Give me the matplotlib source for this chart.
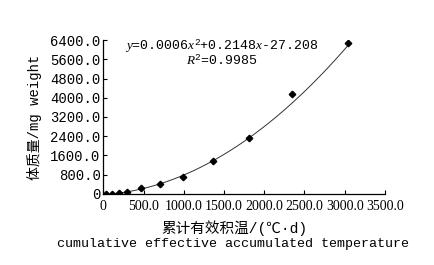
import numpy as np
import matplotlib.pyplot as plt

# accumulated temperature (degree-days) and body weight (mg)
temp = [37, 112, 190, 300, 470, 710, 985, 1360, 1805, 2340, 3040]
weight = [5, 10, 25, 80, 250, 415, 705, 1370, 2330, 4150, 6275]

# trendline coefficients shown on the chart
coef = [0.0006, 0.2148, -27.208]

xticks = [0, 500, 1000, 1500, 2000, 2500, 3000, 3500]
yticks = [0, 800, 1600, 2400, 3200, 4000, 4800, 5600, 6400]

plt.rcParams['font.family'] = ['Liberation Mono', 'Noto Sans CJK SC']
plt.rcParams['mathtext.fontset'] = 'custom'
plt.rcParams['mathtext.rm'] = 'Liberation Mono'
plt.rcParams['mathtext.it'] = 'Liberation Serif:italic'

fig = plt.figure(figsize=(4.34, 2.65), dpi=100)
ax = fig.add_axes([0.238, 0.268, 0.649, 0.581])

xs = np.linspace(temp[0], temp[-1], 200)
ax.plot(xs, np.polyval(coef, xs), color='#333333', lw=0.7)
ax.plot(temp, weight, 'D', color='black', ms=3.3)

ax.set_xlim(0, 3500)
ax.set_ylim(0, 6400)
ax.set_xticks(xticks)
ax.set_xticklabels(['0'] + ['%.1f' % v for v in xticks[1:]], fontsize=10,
                   family='Liberation Serif')
ax.set_yticks(yticks)
ax.set_yticklabels(['0'] + ['%.1f' % v for v in yticks[1:]], fontsize=10)
ax.tick_params(axis='x', direction='in', length=3, width=0.8, pad=4)
ax.tick_params(axis='y', direction='in', length=3, width=0.8, pad=2)
for s in ['top', 'right']:
    ax.spines[s].set_visible(False)
for s in ['left', 'bottom']:
    ax.spines[s].set_linewidth(0.9)

ax.text(0.42, 0.96, r'$y$=0.0006$x^2$+0.2148$x$-27.208', transform=ax.transAxes,
        ha='center', va='center', fontsize=9.5)
ax.text(0.42, 0.865, r'$R^2$=0.9985', transform=ax.transAxes,
        ha='center', va='center', fontsize=9.5)

ax.set_ylabel('体质量/mg weight', fontsize=10, labelpad=6)
fig.text(0.539, 0.14, '累计有效积温/(℃·d)', ha='center', va='center', fontsize=10.5)
fig.text(0.538, 0.08, 'cumulative effective accumulated temperature',
         ha='center', va='center', fontsize=9.6)

fig.savefig('out.png', dpi=100)
